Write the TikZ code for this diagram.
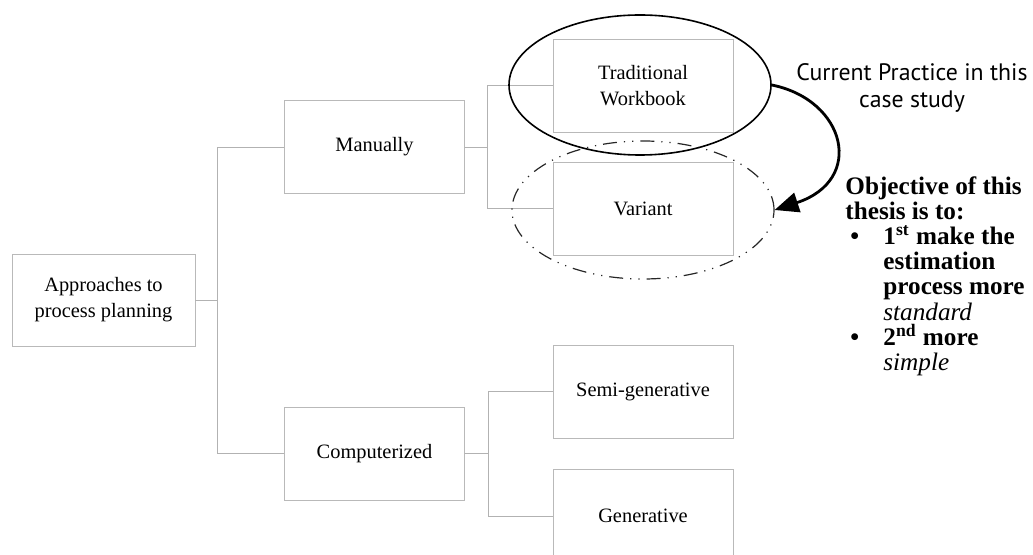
\documentclass[tikz,border=0pt]{standalone}
\usepackage{fontspec}
\setmainfont{Liberation Serif}
\newfontfamily\cpfont{PT Sans}
\usetikzlibrary{shapes.geometric,arrows.meta}

\begin{document}
\begin{tikzpicture}[x=0.5pt,y=-0.5pt,
	box/.style={draw=gray!55, line width=0.4pt, minimum width=90pt, minimum height=46.5pt, inner sep=0pt, align=center, font=\fontsize{10.2}{13}\selectfont},
	link/.style={draw=gray!60, line width=0.4pt}]

	\useasboundingbox (0,0) rectangle (1033,555);

	\node[box, minimum width=91.5pt, minimum height=46pt] (AP) at (103.5,300) {Approaches to\\process planning};
	\node[box] (M) at (374.5,147) {Manually};
	\node[box] (C) at (374.5,453.5) {Computerized};
	\node[box] (TW) at (643,85.5) {Traditional\\Workbook};
	\node[box] (V) at (643,208.5) {Variant};
	\node[box] (SG) at (643,391.5) {Semi-generative};
	\node[box] (G) at (643,516) {Generative};

	\draw[link] (AP.east) -- ++(22,0) |- (M.west);
	\draw[link] (AP.east) -- ++(22,0) |- (C.west);
	\draw[link] (M.east) -- ++(22,0) |- (TW.west);
	\draw[link] (M.east) -- ++(22,0) |- (V.west);
	\draw[link] (C.east) -- ++(23,0) |- (SG.west);
	\draw[link] (C.east) -- ++(23,0) |- (G.west);

	\node[ellipse, draw=black!85, line width=0.6pt, dash pattern=on 7pt off 3.5pt on 0.6pt off 3.5pt on 0.6pt off 3.5pt, minimum width=131pt, minimum height=69pt, inner sep=0pt] (E2) at (643,210) {};
	\node[ellipse, draw, line width=0.8pt, minimum width=131pt, minimum height=70pt, inner sep=0pt] (E1) at (640,85) {};

	\draw[line width=1.4pt, -{Triangle[length=12pt,width=10pt]}] (E1.east) .. controls +(74,15) and +(91,-30) .. (E2.east);

	\node[font=\cpfont\fontsize{11.9}{13.5}\selectfont, align=center] (CP) at (912,88) {Current Practice in this\\case study};

	\node[anchor=north west, inner sep=0pt, align=left, font=\bfseries\fontsize{12.6}{12.6}\selectfont] (OB) at (845,176) {Objective of this\\
		thesis is to:\\
		\hspace*{2.5pt}\makebox[16.5pt][l]{\textbullet}1\textsuperscript{st} make the\\
		\hspace*{19pt}estimation\\
		\hspace*{19pt}process more\\
		\hspace*{19pt}{\mdseries\itshape standard}\\
		\hspace*{2.5pt}\makebox[16.5pt][l]{\textbullet}2\textsuperscript{nd} more\\
		\hspace*{19pt}{\mdseries\itshape simple}};

\end{tikzpicture}
\end{document}
